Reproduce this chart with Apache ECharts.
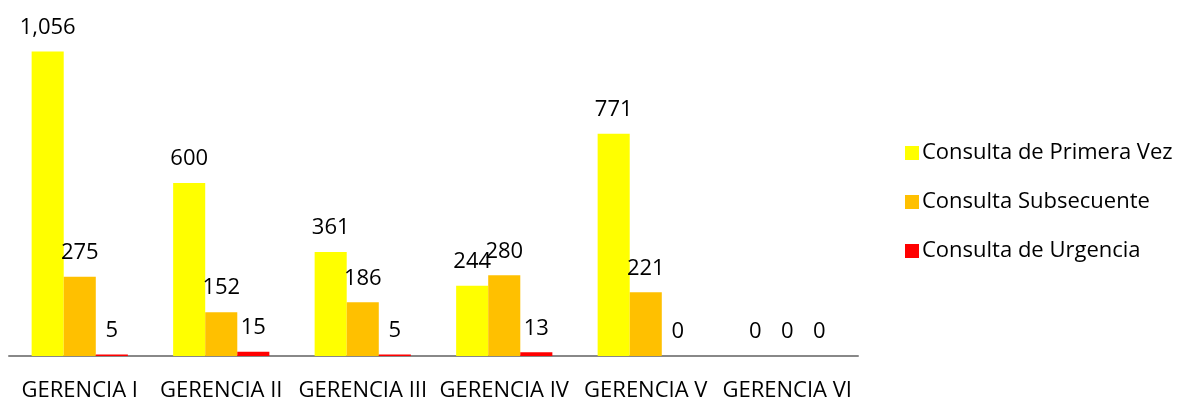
<!DOCTYPE html>
<html>
<head>
<meta charset="utf-8">
<script src="https://cdn.jsdelivr.net/npm/echarts@6/dist/echarts.min.js"></script>
<style>html,body{margin:0;padding:0;background:#fff}#c{width:1190px;height:401px}</style>
</head>
<body>
<div id="c"></div>
<script>
const categories = ['GERENCIA I', 'GERENCIA II', 'GERENCIA III', 'GERENCIA IV', 'GERENCIA V', 'GERENCIA VI'];
const primeraVez = [1056, 600, 361, 244, 771, 0];
const subsecuente = [275, 152, 186, 280, 221, 0];
const urgencia = [5, 15, 5, 13, 0, 0];
const seriesNames = ['Consulta de Primera Vez', 'Consulta Subsecuente', 'Consulta de Urgencia'];
const colors = ['#FFFF00', '#FFC000', '#FF0000'];

const font = '"Open Sans", sans-serif';
const chart = echarts.init(document.getElementById('c'));
const lbl = {
  show: true, position: 'top', distance: 13, color: '#000', fontSize: 22, fontFamily: font,
  formatter: p => p.value.toLocaleString('en-US')
};
chart.setOption({
  animation: false,
  grid: { left: 9, right: 332, top: 10, bottom: 45, containLabel: false, outerBoundsMode: 'none' },
  legend: {
    orient: 'vertical', left: 900, top: 137, itemGap: 27, itemWidth: 14, itemHeight: 14,
    icon: 'rect',
    textStyle: { fontSize: 22, fontFamily: font, color: '#000', padding: [0, 0, 0, -2] },
    data: seriesNames
  },
  xAxis: {
    type: 'category', data: categories,
    axisLine: { lineStyle: { color: '#888', width: 2 } },
    axisTick: { show: false },
    axisLabel: { color: '#000', fontSize: 22, fontFamily: font, margin: 24, interval: 0 }
  },
  yAxis: { type: 'value', min: 0, max: 1200, show: false, splitLine: { show: false } },
  series: [
    { name: seriesNames[0], type: 'bar', data: primeraVez, itemStyle: { color: colors[0] }, barGap: '0%', barCategoryGap: '32%', label: lbl },
    { name: seriesNames[1], type: 'bar', data: subsecuente, itemStyle: { color: colors[1] }, barGap: '0%', barCategoryGap: '32%', label: lbl },
    { name: seriesNames[2], type: 'bar', data: urgencia, itemStyle: { color: colors[2] }, barGap: '0%', barCategoryGap: '32%', label: lbl }
  ]
});
</script>
</body>
</html>
